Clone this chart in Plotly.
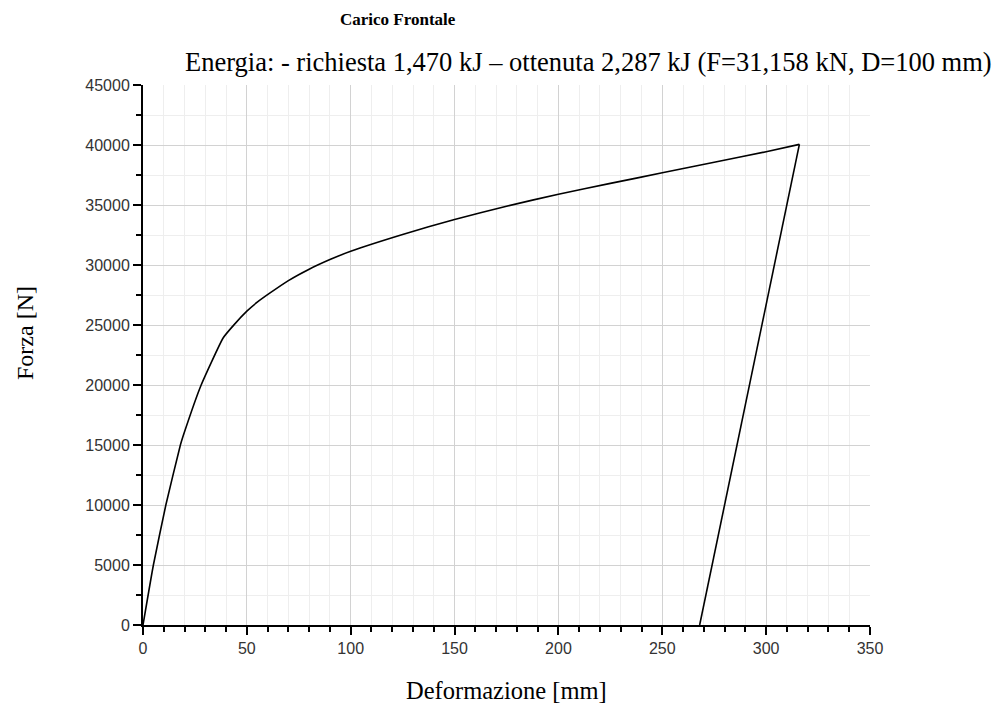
import plotly.graph_objects as go

# Data (Deformazione [mm], Forza [N])
# Loading branch
def_carico = [0, 5, 11, 18, 20, 28, 38.5, 44, 50, 55, 61, 70, 80, 90, 100, 125, 150, 175, 200,
              225, 250, 275, 300, 316]
forza_carico = [0, 5000, 10000, 15000, 16100, 20000, 23900, 25050, 26150, 26900, 27650, 28700,
                29650, 30450, 31150, 32550, 33800, 34900, 35900, 36800, 37680, 38560, 39440, 40050]
# Unloading branch
def_scarico = [316, 268]
forza_scarico = [40050, 0]

title_text = "Carico Frontale"
subtitle_text = "Energia: - richiesta 1,470 kJ \u2013 ottenuta 2,287 kJ (F=31,158 kN, D=100 mm)"
x_title = "Deformazione [mm]"
y_title = "Forza [N]"

fig = go.Figure()
fig.add_trace(go.Scatter(x=def_carico, y=forza_carico, mode="lines",
                         line=dict(color="black", width=1.6, shape="spline", smoothing=0.4),
                         showlegend=False, hoverinfo="skip"))
fig.add_trace(go.Scatter(x=def_scarico, y=forza_scarico, mode="lines",
                         line=dict(color="black", width=1.6), showlegend=False, hoverinfo="skip"))

serif = "Liberation Serif, Times New Roman, serif"
sans = "Liberation Sans, Arial, sans-serif"

L, R, T, B = 143, 130, 85, 86
W, H = 1000, 711
pw = W - L - R
ph = H - T - B


def px2paper(px, py):
    return (px - L) / pw, 1 + (T - py) / ph


anns = []
for text, (px, py), font, ang in [
    ("<b>" + title_text + "</b>", (398, 20), dict(family=serif, size=17, color="black"), 0),
    (subtitle_text, (588, 62), dict(family=serif, size=26.5, color="black"), 0),
    (x_title, (506, 690), dict(family=serif, size=24.5, color="black"), 0),
    (y_title, (25, 333), dict(family=serif, size=24, color="black"), -90),
]:
    x, y = px2paper(px, py)
    anns.append(dict(text=text, x=x, y=y, xref="paper", yref="paper", showarrow=False,
                     xanchor="center", yanchor="middle", font=font, textangle=ang))

fig.update_layout(
    width=W, height=H,
    paper_bgcolor="white", plot_bgcolor="white",
    margin=dict(l=L, r=R, t=T, b=B, autoexpand=False),
    annotations=anns,
    hovermode=False,
)

fig.update_xaxes(
    range=[0, 350], dtick=50, tick0=0,
    showline=True, linecolor="black", linewidth=2,
    ticks="outside", ticklen=8, tickwidth=2, tickcolor="black",
    showgrid=True, gridcolor="#d2d2d2", gridwidth=1, zeroline=False,
    minor=dict(dtick=10, ticks="outside", ticklen=5, tickwidth=2, tickcolor="black",
               showgrid=True, gridcolor="#eeeeee", gridwidth=1),
    tickfont=dict(family=sans, size=16, color="#333333"),
)
fig.update_yaxes(
    range=[0, 45000], dtick=5000, tick0=0,
    showline=True, linecolor="black", linewidth=2,
    ticks="outside", ticklen=8, tickwidth=2, tickcolor="black",
    showgrid=True, gridcolor="#d2d2d2", gridwidth=1, zeroline=False,
    minor=dict(dtick=2500, ticks="outside", ticklen=5, tickwidth=2, tickcolor="black",
               showgrid=True, gridcolor="#eeeeee", gridwidth=1),
    tickfont=dict(family=sans, size=16, color="#333333"),
    tickformat="d",
)

fig.write_html("out.html", config={"displayModeBar": False},
               post_script="document.body.style.margin='0';")
